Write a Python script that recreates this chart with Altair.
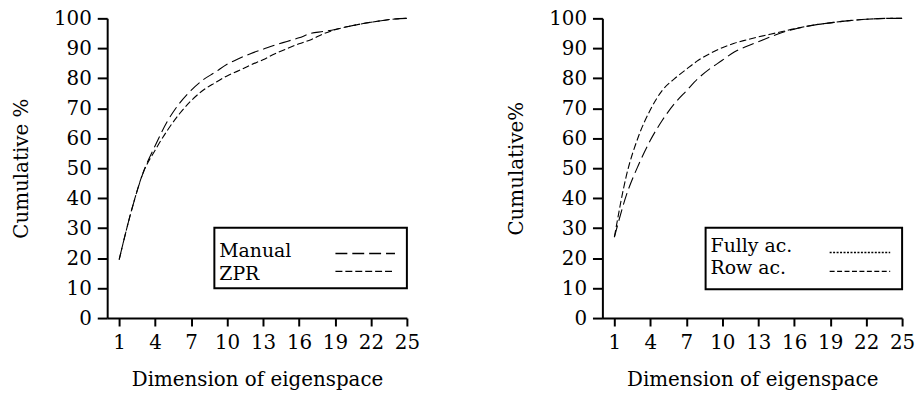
import altair as alt
import pandas as pd

dims = list(range(1, 26))
manual = [19.5, 35.5, 48.5, 57.5, 65.5, 71.5, 76, 79.5, 82, 84.7, 86.6, 88.3, 89.7, 91.1, 92.3, 93.5, 95.0, 95.6, 96.3, 97.2, 98, 98.7, 99.3, 99.8, 100]
zpr = [19.5, 35.5, 48.5, 56, 62.5, 68, 72.5, 76, 78.5, 80.8, 82.6, 84.5, 86.2, 88.2, 89.9, 91.5, 92.9, 94.8, 96.2, 97.2, 98, 98.7, 99.3, 99.8, 100]
fully = [27, 41, 51, 59.3, 66, 71.5, 75.8, 80, 83.3, 86, 88.8, 90.6, 92.2, 93.8, 95.3, 96.4, 97.3, 98, 98.5, 99, 99.4, 99.7, 99.9, 100, 100]
row = [27, 47.5, 60.5, 69.5, 76, 79.8, 83, 86, 88.3, 90.2, 91.7, 92.8, 93.8, 94.7, 95.6, 96.5, 97.3, 98, 98.5, 99, 99.4, 99.7, 99.9, 100, 100]
x_ticks = [1, 4, 7, 10, 13, 16, 19, 22, 25]
y_ticks = list(range(0, 101, 10))

left_names = ["Manual", "ZPR"]
left_dashes = [[12, 5], [7, 3]]
right_names = ["Fully ac.", "Row ac."]
right_dashes = [[2, 1.5], [5, 2.5]]

FONT = "DejaVu Serif"
W, H = 302, 302

left_df = pd.DataFrame({"dim": dims * 2, "pct": manual + zpr,
                        "series": [left_names[0]] * 25 + [left_names[1]] * 25})
right_df = pd.DataFrame({"dim": dims * 2, "pct": fully + row,
                         "series": [right_names[0]] * 25 + [right_names[1]] * 25})


def panel(df, names, dashes, ytitle, box, text_x, text_y, sym_x, sym_y):
    lines = alt.Chart(df).mark_line(color="black", strokeWidth=1.1, interpolate="monotone").encode(
        x=alt.X("dim:Q", title="Dimension of eigenspace",
                scale=alt.Scale(domain=[0, 25], nice=False),
                axis=alt.Axis(values=x_ticks, grid=False, labelOverlap=False, labelFlush=False)),
        y=alt.Y("pct:Q", title=ytitle,
                scale=alt.Scale(domain=[0, 100], nice=False),
                axis=alt.Axis(values=y_ticks, grid=False, labelOverlap=False, labelFlush=False)),
        strokeDash=alt.StrokeDash("series:N", sort=names,
                                  scale=alt.Scale(domain=names, range=dashes),
                                  legend=None),
        detail="series:N",
    )
    layers = [lines]
    frame = alt.Chart(pd.DataFrame({"k": [0]})).mark_rect(
        fill="white", stroke="black", strokeWidth=2
    ).encode(x=alt.value(box[0]), x2=alt.value(box[1]),
             y=alt.value(box[2]), y2=alt.value(box[3]))
    layers.append(frame)
    for i, (name, dash) in enumerate(zip(names, dashes)):
        lab = alt.Chart(pd.DataFrame({"label": [name]})).mark_text(
            align="left", baseline="alphabetic", font=FONT, fontSize=19, color="black"
        ).encode(text="label:N", x=alt.value(text_x), y=alt.value(text_y[i]))
        sym = alt.Chart(pd.DataFrame({"label": [name]})).mark_rule(
            color="black", strokeWidth=1.4, strokeDash=dash
        ).encode(x=alt.value(sym_x[0]), x2=alt.value(sym_x[1]), y=alt.value(sym_y[i]))
        layers += [lab, sym]
    return alt.layer(*layers).properties(width=W, height=H)


left = panel(left_df, left_names, left_dashes, "Cumulative %",
             (108, 302, 211, 272), 113, [240, 264], (230, 290), [237, 255])
right = panel(right_df, right_names, right_dashes, "Cumulative%",
              (104, 302, 211, 273), 109, [235, 258], (229, 290), [236, 255])

chart = alt.hconcat(left, right, spacing=87).configure_view(
    stroke=None
).configure_axis(
    domainColor="black", domainWidth=2, tickColor="black", tickWidth=2,
    labelFont=FONT, labelFontSize=20, labelColor="black",
    titleFont=FONT, titleFontSize=20, titleFontWeight="normal", titleColor="black",
).configure_axisY(tickSize=10, labelPadding=6, titlePadding=22).configure_axisX(
    tickSize=8, labelPadding=7, titlePadding=17
).properties(
    padding={"left": 11, "top": 7, "right": 0, "bottom": 0}, background="white"
)

chart.save("out.html", embed_options={"renderer": "svg", "actions": False})
